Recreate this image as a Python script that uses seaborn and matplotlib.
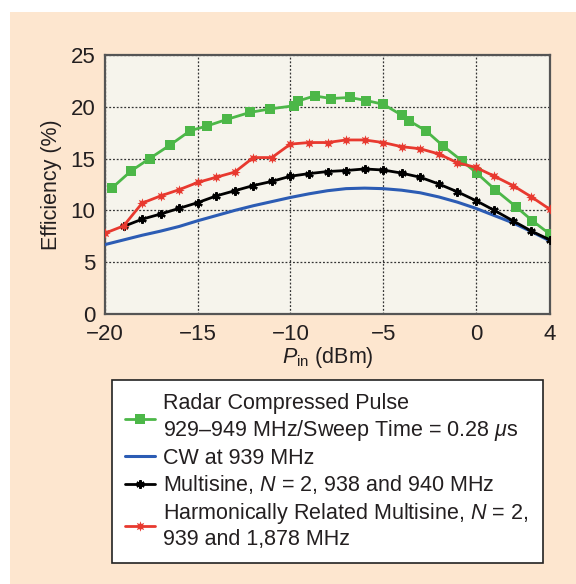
import numpy as np
import pandas as pd
import matplotlib
matplotlib.use("Agg")
import matplotlib.pyplot as plt
import seaborn as sns
from matplotlib.patches import Rectangle

# Datos
x_radar = [-19.6, -18.6, -17.6, -16.5, -15.4, -14.5, -13.4, -12.2, -11.1, -9.8, -9.6, -8.7, -7.8,
           -6.8, -5.9, -5.0, -4.0, -3.6, -2.7, -1.75, -0.76, 0.05, 1.04, 2.17, 3.05, 4.0]
y_radar = [12.2, 13.8, 15.0, 16.3, 17.7, 18.15, 18.8, 19.45, 19.8, 20.1, 20.55, 21.05, 20.8,
           20.9, 20.6, 20.25, 19.2, 18.65, 17.7, 16.2, 14.8, 13.6, 12.0, 10.35, 9.0, 7.7]

x_cw = list(range(-20, 5))
y_cw = [6.7, 7.15, 7.6, 8.0, 8.45, 9.0, 9.5, 10.0, 10.45, 10.85, 11.25, 11.6, 11.9,
        12.1, 12.15, 12.1, 11.95, 11.7, 11.3, 10.8, 10.2, 9.5, 8.8, 7.95, 7.05]

x_multi = list(range(-19, 5))
y_multi = [8.45, 9.15, 9.65, 10.2, 10.75, 11.4, 11.9, 12.4, 12.8, 13.3, 13.55, 13.75,
           13.85, 14.0, 13.9, 13.6, 13.2, 12.55, 11.8, 10.95, 10.0, 9.0, 8.0, 7.15]

x_harm = list(range(-20, 5))
y_harm = [7.8, 8.5, 10.7, 11.4, 12.0, 12.7, 13.2, 13.7, 15.1, 15.1, 16.4, 16.55, 16.55,
          16.8, 16.8, 16.55, 16.15, 15.95, 15.45, 14.6, 14.15, 13.3, 12.4, 11.3, 10.1]

etiquetas = [
    "Radar Compressed Pulse\n929\u2013949 MHz/Sweep Time = 0.28 $\\mu$s",
    "CW at 939 MHz",
    "Multisine, $N$ = 2, 938 and 940 MHz",
    "Harmonically Related Multisine, $N$ = 2,\n939 and 1,878 MHz",
]
x_ticks = [-20, -15, -10, -5, 0, 4]
y_ticks = [0, 5, 10, 15, 20, 25]

sns.set_theme(style="white")
plt.rcParams['font.family'] = ['Liberation Sans', 'DejaVu Sans']
plt.rcParams['mathtext.fontset'] = 'custom'
plt.rcParams['mathtext.rm'] = 'Liberation Sans'
plt.rcParams['mathtext.it'] = 'Liberation Sans:italic'

fig = plt.figure(figsize=(5.76, 5.84), dpi=100, facecolor='white')
fig.patches.append(Rectangle((10 / 576, 0), 1, 1 - 12 / 584, transform=fig.transFigure,
                             facecolor='#fde6cf', edgecolor='none', zorder=-10))

ax = fig.add_axes([105 / 576, 1 - 314 / 584, 445 / 576, 259 / 584])
ax.set_facecolor('#f6f4ec')

df_radar = pd.DataFrame({'x': x_radar, 'y': y_radar})
df_cw = pd.DataFrame({'x': x_cw, 'y': y_cw})
df_multi = pd.DataFrame({'x': x_multi, 'y': y_multi})
df_harm = pd.DataFrame({'x': x_harm, 'y': y_harm})

sns.lineplot(data=df_radar, x='x', y='y', ax=ax, color='#4cb748', lw=2, marker='s',
             markersize=6.5, markeredgewidth=0, label=etiquetas[0], zorder=4)
sns.lineplot(data=df_cw, x='x', y='y', ax=ax, color='#2c5cb4', lw=2.2, label=etiquetas[1], zorder=3)
sns.lineplot(data=df_multi, x='x', y='y', ax=ax, color='black', lw=2, marker=(6, 2, 0),
             markersize=6, markeredgewidth=1.6, markeredgecolor='black', label=etiquetas[2], zorder=4)
sns.lineplot(data=df_harm, x='x', y='y', ax=ax, color='#e8392f', lw=2, marker=(8, 1, 0),
             markersize=7.5, markeredgewidth=0, label=etiquetas[3], zorder=4)

ax.set_xlim(-20, 4)
ax.set_ylim(0, 25)
ax.set_xticks(x_ticks)
ax.set_xticklabels([f"\u2212{abs(t)}" if t < 0 else str(t) for t in x_ticks])
ax.set_yticks(y_ticks)
ax.tick_params(labelsize=16, length=0, colors='#231f20')
ax.tick_params(axis='x', pad=7)
ax.tick_params(axis='y', pad=7)
ax.set_xlabel("$P_{\\mathrm{in}}$ (dBm)", fontsize=15.5, color='#231f20', labelpad=0)
ax.set_ylabel("Efficiency (%)", fontsize=15.5, color='#231f20', labelpad=6)
ax.grid(True, color='#333333', linestyle=(0, (1.5, 1.5)), linewidth=0.9)
for s in ax.spines.values():
    s.set_color('#555555')
    s.set_linewidth(1.6)

ax.get_legend().remove()
h, l = ax.get_legend_handles_labels()
leg = fig.legend(h, l, loc='upper left', mode='expand',
                 bbox_to_anchor=(112 / 576, 1 - 381 / 584, 431 / 576, 0.001),
                 fontsize=15.5, frameon=True, fancybox=False, framealpha=1,
                 edgecolor='#222222', handlelength=1.4, handletextpad=0.35,
                 borderpad=0.6, labelspacing=0.22, borderaxespad=0)
leg.get_frame().set_linewidth(1.2)
for t in leg.get_texts():
    t.set_color('#231f20')

plt.savefig('out.png', dpi=100, facecolor=fig.get_facecolor())
plt.close()
